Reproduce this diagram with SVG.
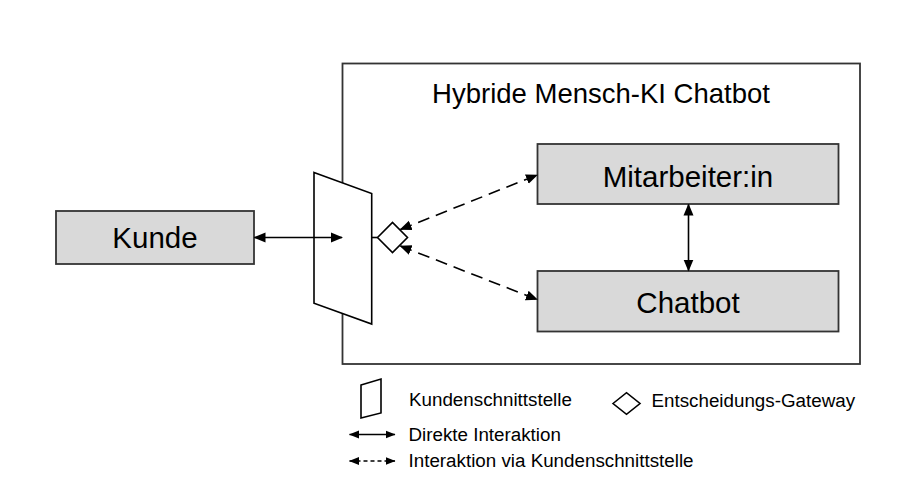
<svg xmlns="http://www.w3.org/2000/svg" width="919" height="488" viewBox="0 0 919 488">
  <defs>
    <style>
      text { font-family: "Liberation Sans", Arial, sans-serif; fill: #000; }
      .node { fill: #d9d9d9; stroke: #333; stroke-width: 1.8; }
      .big { font-size: 29.5px; text-anchor: middle; }
      .title { font-size: 27.5px; text-anchor: middle; }
      .leg { font-size: 18.8px; }
      .line { stroke: #000; stroke-width: 1.6; fill: none; }
      .dash { stroke-dasharray: 12 7; }
      .ldash { stroke-dasharray: 4 3; }
      .shape { fill: #fff; stroke: #000; stroke-width: 1.6; }
    </style>
    <marker id="ah" markerUnits="userSpaceOnUse" markerWidth="12" markerHeight="12" viewBox="0 0 12 12" refX="11" refY="6" orient="auto-start-reverse">
      <path d="M0,1 L12,6 L0,11 z" fill="#000"/>
    </marker>
    <marker id="ahs" markerUnits="userSpaceOnUse" markerWidth="10" markerHeight="9" viewBox="0 0 10 9" refX="9.5" refY="4.5" orient="auto-start-reverse">
      <path d="M0,0.5 L10,4.5 L0,8.5 z" fill="#000"/>
    </marker>
  </defs>
  <rect width="919" height="488" fill="#fff"/>

  <g id="system">
    <rect x="342.5" y="63.5" width="517.5" height="300.5" fill="#fff" stroke="#333" stroke-width="1.8"/>
    <text class="title" x="601" y="103">Hybride Mensch-KI Chatbot</text>
  </g>

  <g id="kunde">
    <rect class="node" x="56" y="211" width="198" height="53"/>
    <text class="big" x="155" y="248">Kunde</text>
  </g>

  <g id="kundenschnittstelle">
    <polygon class="shape" points="314,172.5 371.7,193.5 371.7,324 314,303.3"/>
  </g>

  <g id="gateway">
    <polygon class="shape" points="377.5,237.5 392.5,222.5 407.5,237.5 392.5,252.5"/>
  </g>

  <g id="mitarbeiter">
    <rect class="node" x="537.5" y="144" width="301" height="60"/>
    <text class="big" x="688" y="186.5">Mitarbeiter:in</text>
  </g>

  <g id="chatbot">
    <rect class="node" x="537.5" y="271" width="301" height="60.5"/>
    <text class="big" x="688" y="312.5">Chatbot</text>
  </g>

  <g id="connectors">
    <line class="line" x1="254.5" y1="237.5" x2="342" y2="237.5" marker-start="url(#ah)" marker-end="url(#ah)"/>
    <line class="line" x1="371.7" y1="237.5" x2="377.5" y2="237.5"/>
    <line class="line dash" x1="400.5" y1="229.5" x2="537" y2="175" marker-start="url(#ah)" marker-end="url(#ah)"/>
    <line class="line dash" x1="400.5" y1="246" x2="537" y2="299.5" marker-start="url(#ah)" marker-end="url(#ah)"/>
    <line class="line" x1="688.5" y1="204.5" x2="688.5" y2="270.5" marker-start="url(#ah)" marker-end="url(#ah)"/>
  </g>

  <g id="legend">
    <polygon class="shape" points="361,385 381,379 381,413 361,418"/>
    <text class="leg" x="409" y="406">Kundenschnittstelle</text>
    <polygon class="shape" points="613,403.5 626.5,392.7 640,403.5 626.5,414.3"/>
    <text class="leg" x="651.5" y="406.5">Entscheidungs-Gateway</text>
    <line class="line" x1="349.5" y1="434.5" x2="395" y2="434.5" stroke-width="1.4" marker-start="url(#ahs)" marker-end="url(#ahs)"/>
    <text class="leg" x="408.5" y="440.5">Direkte Interaktion</text>
    <line class="line ldash" x1="349.5" y1="461" x2="395" y2="461" stroke-width="1.4" marker-start="url(#ahs)" marker-end="url(#ahs)"/>
    <text class="leg" x="408.5" y="467">Interaktion via Kundenschnittstelle</text>
  </g>
</svg>
